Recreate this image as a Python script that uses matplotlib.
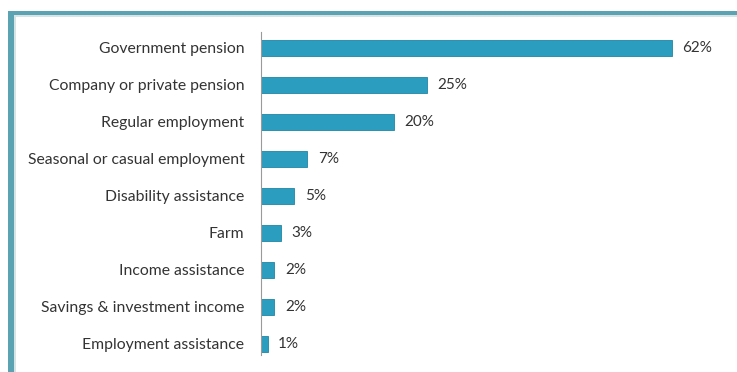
import numpy as np
import matplotlib
matplotlib.use('Agg')
import matplotlib.pyplot as plt
from matplotlib.patches import Rectangle

sources = ['Government pension', 'Company or private pension', 'Regular employment',
           'Seasonal or casual employment', 'Disability assistance', 'Farm',
           'Income assistance', 'Savings & investment income', 'Employment assistance']
shares = [62, 25, 20, 7, 5, 3, 2, 2, 1]

plt.rcParams['font.family'] = ['Lato', 'DejaVu Sans']

fig = plt.figure(figsize=(7.37, 3.72), dpi=100)
W, H = 737.0, 372.0

# teal frame around the chart panel (left and top edges)
fig.patches.append(Rectangle((8/W, 0), 6/W, 1 - 11/H, transform=fig.transFigure,
                             facecolor='#5ba3b2', edgecolor='none', zorder=0))
fig.patches.append(Rectangle((8/W, 1 - 15/H), 1 - 8/W, 4/H, transform=fig.transFigure,
                             facecolor='#5ba3b2', edgecolor='none', zorder=0))
fig.patches.append(Rectangle((14/W, 1 - 17/H), 1 - 14/W, 2/H, transform=fig.transFigure,
                             facecolor='#d6e4e6', edgecolor='none', zorder=0))
fig.patches.append(Rectangle((14/W, 0), 2/W, 1 - 17/H, transform=fig.transFigure,
                             facecolor='#d6e4e6', edgecolor='none', zorder=0))

ax = fig.add_axes([261/W, 17/H, 464/W, 323/H])
y = np.arange(len(sources))
ax.barh(y, shares, height=0.45, color='#2b9dbe', edgecolor='#1f86a6', linewidth=0.6)
ax.set_xlim(0, 70)
ax.set_ylim(8.3, -0.43)
ax.set_yticks(y)
ax.set_yticklabels(sources, fontsize=11.3, color='#333333')
ax.tick_params(axis='y', length=0, pad=12)
ax.set_xticks([])
for s in ['top', 'right', 'bottom']:
  ax.spines[s].set_visible(False)
ax.spines['left'].set_color('#9a9a9a')
ax.spines['left'].set_linewidth(0.8)

for yi, v in zip(y, shares):
  ax.text(v + 1.6, yi, '{}%'.format(v), va='center', ha='left',
          fontsize=11, color='#333333')

fig.savefig('out.png', dpi=100)
